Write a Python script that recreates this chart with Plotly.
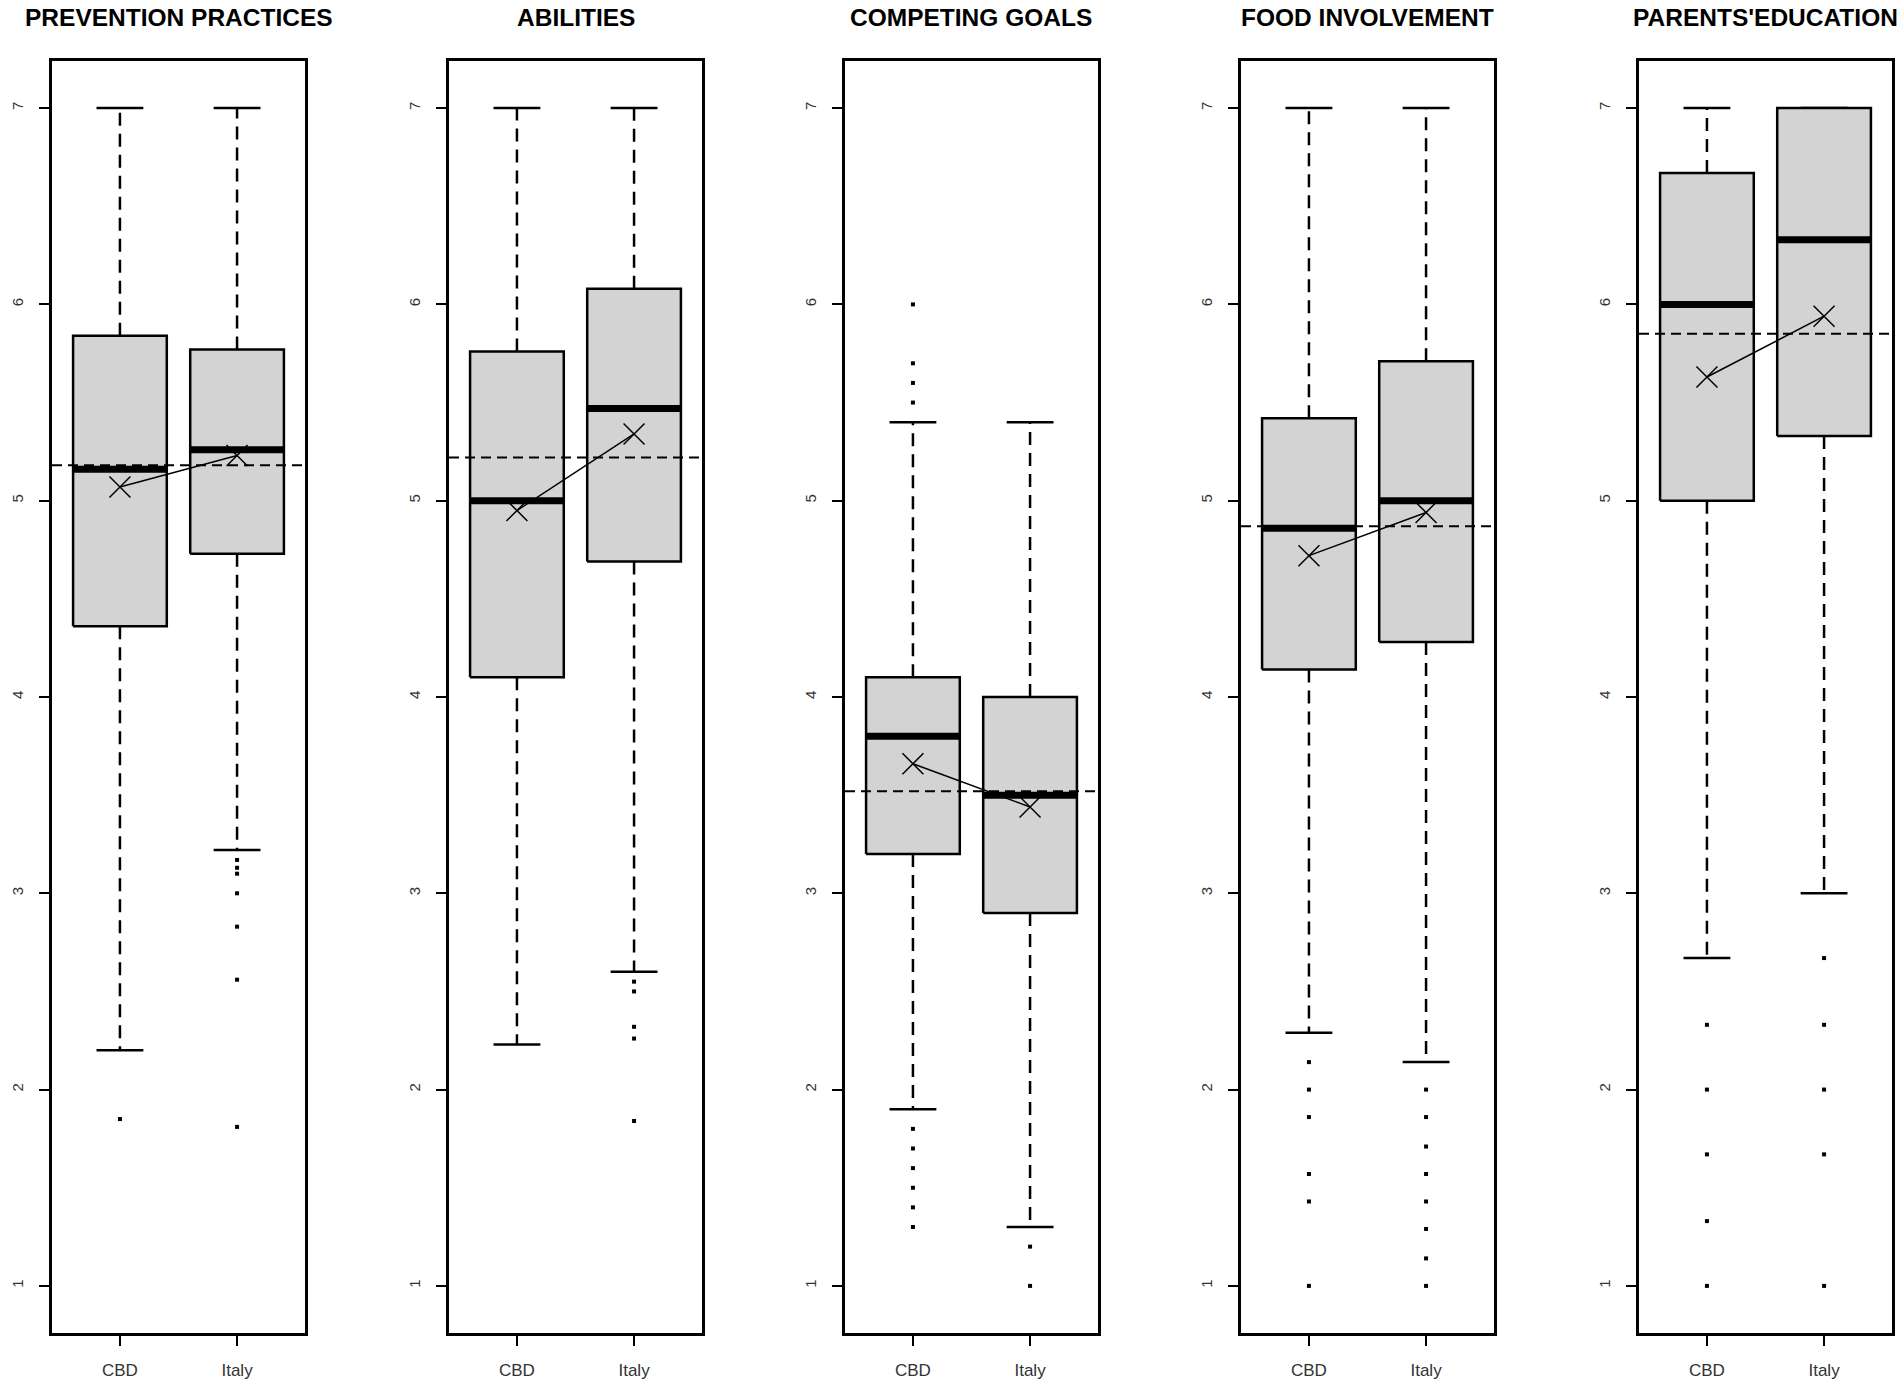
import plotly.graph_objects as go

# ---------------- data ----------------
panel_titles = ["PREVENTION PRACTICES", "ABILITIES", "COMPETING GOALS",
                "FOOD INVOLVEMENT", "PARENTS'EDUCATION"]
groups = ["CBD", "Italy"]
y_ticks = [1, 2, 3, 4, 5, 6, 7]

# per panel: [CBD, Italy]
lower_whisker = [[2.20, 3.22], [2.23, 2.60], [1.90, 1.30], [2.29, 2.14], [2.67, 3.00]]
q1_values     = [[4.36, 4.73], [4.10, 4.69], [3.20, 2.90], [4.14, 4.28], [5.00, 5.33]]
median_values = [[5.16, 5.26], [5.00, 5.47], [3.80, 3.50], [4.86, 5.00], [6.00, 6.33]]
q3_values     = [[5.84, 5.77], [5.76, 6.08], [4.10, 4.00], [5.42, 5.71], [6.67, 7.00]]
upper_whisker = [[7.00, 7.00], [7.00, 7.00], [5.40, 5.40], [7.00, 7.00], [7.00, 7.00]]
mean_values   = [[5.07, 5.23], [4.95, 5.34], [3.66, 3.44], [4.72, 4.94], [5.63, 5.94]]
grand_mean    = [5.18, 5.22, 3.52, 4.87, 5.85]

outliers_cbd = [
    [1.85],
    [],
    [6.0, 5.7, 5.6, 5.5, 1.8, 1.7, 1.6, 1.5, 1.4, 1.3],
    [2.14, 2.0, 1.86, 1.57, 1.43, 1.0],
    [2.33, 2.0, 1.67, 1.33, 1.0],
]
outliers_italy = [
    [3.17, 3.13, 3.10, 3.0, 2.83, 2.56, 1.81],
    [2.55, 2.50, 2.32, 2.26, 1.84],
    [1.2, 1.0],
    [2.0, 1.86, 1.71, 1.57, 1.43, 1.29, 1.14, 1.0],
    [2.67, 2.33, 2.0, 1.67, 1.0],
]

# ---------------- layout constants ----------------
W, H = 1902, 1391
panel_left_px = [52, 449, 845, 1241, 1639]
panel_width_px = 253
plot_top_px, plot_bottom_px = 61, 1333
title_center_px = 18
BOX_HALF = 0.4
CAP_HALF = 0.2
FONT = "Liberation Sans, Arial, sans-serif"

fig = go.Figure()
layout_axes = {}
shapes = []
annotations = []

for p in range(5):
    sfx = "" if p == 0 else str(p + 1)
    xa, ya = "x" + sfx, "y" + sfx
    outl = [outliers_cbd[p], outliers_italy[p]]
    positions = [i + 1 for i in range(len(groups))]

    for g, c in enumerate(positions):
        # whiskers (dashed)
        fig.add_trace(go.Scatter(
            x=[c, c, None, c, c],
            y=[q3_values[p][g], upper_whisker[p][g], None, q1_values[p][g], lower_whisker[p][g]],
            mode="lines", line=dict(color="black", width=2.5, dash="13px,8px"),
            xaxis=xa, yaxis=ya, showlegend=False, hoverinfo="skip"))
        # caps
        fig.add_trace(go.Scatter(
            x=[c - CAP_HALF, c + CAP_HALF, None, c - CAP_HALF, c + CAP_HALF],
            y=[upper_whisker[p][g]] * 2 + [None] + [lower_whisker[p][g]] * 2,
            mode="lines", line=dict(color="black", width=2.5),
            xaxis=xa, yaxis=ya, showlegend=False, hoverinfo="skip"))
        # box
        fig.add_trace(go.Scatter(
            x=[c - BOX_HALF, c + BOX_HALF, c + BOX_HALF, c - BOX_HALF, c - BOX_HALF],
            y=[q1_values[p][g], q1_values[p][g], q3_values[p][g], q3_values[p][g], q1_values[p][g]],
            mode="lines", fill="toself", fillcolor="#d3d3d3",
            line=dict(color="black", width=2.5),
            xaxis=xa, yaxis=ya, showlegend=False, hoverinfo="skip"))
        # median
        fig.add_trace(go.Scatter(
            x=[c - BOX_HALF, c + BOX_HALF],
            y=[median_values[p][g]] * 2,
            mode="lines", line=dict(color="black", width=7),
            xaxis=xa, yaxis=ya, showlegend=False, hoverinfo="skip"))
        # outliers
        if outl[g]:
            fig.add_trace(go.Scatter(
                x=[c] * len(outl[g]), y=outl[g], mode="markers",
                marker=dict(symbol="square", size=4, color="black", line=dict(width=0)),
                xaxis=xa, yaxis=ya, showlegend=False, hoverinfo="skip"))

    # grand mean dashed line across the panel
    shapes.append(dict(type="line", xref=xa + " domain", yref=ya,
                       x0=0, x1=1, y0=grand_mean[p], y1=grand_mean[p],
                       line=dict(color="black", width=2, dash="10px,6px"),
                       layer="above"))

    # means with connecting line
    fig.add_trace(go.Scatter(
        x=positions, y=mean_values[p], mode="lines+markers",
        line=dict(color="black", width=1.5),
        marker=dict(symbol="x-thin", size=21, color="black",
                    line=dict(color="black", width=1.5)),
        xaxis=xa, yaxis=ya, showlegend=False, hoverinfo="skip"))

    x0 = panel_left_px[p] / W
    x1 = (panel_left_px[p] + panel_width_px) / W
    y0 = (H - plot_bottom_px) / H
    y1 = (H - plot_top_px) / H

    layout_axes["xaxis" + sfx] = dict(
        domain=[x0, x1], range=[0.42, 2.58], anchor=ya,
        tickmode="array", tickvals=positions, ticktext=groups,
        ticks="outside", ticklen=10, tickwidth=2, tickcolor="black",
        showline=True, mirror=True, linecolor="black", linewidth=2.5,
        showgrid=False, zeroline=False, fixedrange=True,
        ticklabelstandoff=10,
        tickfont=dict(family=FONT, size=17, color="#333333"))
    layout_axes["yaxis" + sfx] = dict(
        domain=[y0, y1], range=[0.76, 7.24], anchor=xa,
        tickmode="array", tickvals=y_ticks, ticktext=[str(t) for t in y_ticks],
        tickangle=-90,
        ticks="outside", ticklen=10, tickwidth=2, tickcolor="black",
        showline=True, mirror=True, linecolor="black", linewidth=2.5,
        showgrid=False, zeroline=False, fixedrange=True,
        ticklabelstandoff=10,
        tickfont=dict(family=FONT, size=15, color="#333333"))

    annotations.append(dict(
        text=panel_titles[p], xref="paper", yref="paper",
        x=(x0 + x1) / 2, y=1 - title_center_px / H, xanchor="center", yanchor="middle",
        showarrow=False,
        font=dict(family=FONT, size=24.5, color="black", weight="bold")))

fig.update_layout(
    width=W, height=H,
    margin=dict(l=0, r=0, t=0, b=0),
    paper_bgcolor="white", plot_bgcolor="white",
    shapes=shapes, annotations=annotations,
    **layout_axes)

fig.write_html("out.html",
               config={"displayModeBar": False},
               post_script="document.body.style.margin='0';document.body.style.overflow='hidden';")
